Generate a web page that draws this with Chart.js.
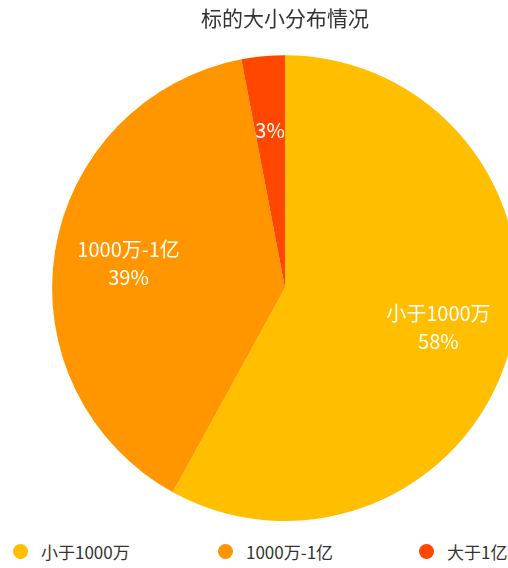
<!DOCTYPE html>
<html>
<head>
<meta charset="utf-8">
<script src="https://cdn.jsdelivr.net/npm/chart.js@4.4.1/dist/chart.umd.min.js"></script>
<style>
  html,body{margin:0;padding:0;background:#fff;overflow:hidden;}
  .wrap{position:relative;width:570px;height:568px;}
  #pie{display:block;}
  .legend{list-style:none;margin:0;padding:0 0 0 13px;display:flex;height:33px;align-items:center;
    font-family:"Noto Sans CJK SC","Noto Sans",sans-serif;font-size:17px;color:#333;white-space:nowrap;}
  .legend li{display:flex;align-items:center;flex:none;}
  .legend .dot{width:15px;height:15px;border-radius:50%;margin-right:13px;flex:none;}
</style>
</head>
<body>
<div class="wrap">
  <canvas id="pie" width="570" height="535"></canvas>
  <ul class="legend" id="legend"></ul>
</div>
<script>
// 标的规模分组与占比（%）
const labels = ['小于1000万', '1000万-1亿', '大于1亿'];
const shares = [58, 39, 3];
const colors = ['#FFBE00', '#FF9600', '#FF4700'];
const legendWidths = [205, 201, 200];

// 扇区内标签：名称 + 百分比，小扇区只写百分比
const sliceLabels = {
  id: 'sliceLabels',
  afterDatasetsDraw(chart) {
    const ctx = chart.ctx;
    const meta = chart.getDatasetMeta(0);
    ctx.save();
    ctx.fillStyle = '#fff';
    ctx.textAlign = 'center';
    ctx.textBaseline = 'middle';
    ctx.font = '20px "Noto Sans CJK SC", "Noto Sans", sans-serif';
    meta.data.forEach((arc, i) => {
      const mid = (arc.startAngle + arc.endAngle) / 2;
      const r = arc.outerRadius * 0.68;
      const x = arc.x + Math.cos(mid) * r;
      const y = arc.y + Math.sin(mid) * r;
      const pct = shares[i] + '%';
      if (shares[i] < 5) {
        ctx.fillText(pct, x, y);
      } else {
        ctx.fillText(labels[i], x, y - 14);
        ctx.fillText(pct, x, y + 14);
      }
    });
    ctx.restore();
  }
};

new Chart(document.getElementById('pie'), {
  type: 'pie',
  plugins: [sliceLabels],
  data: {
    labels,
    datasets: [{
      data: shares,
      backgroundColor: colors,
      hoverBackgroundColor: colors,
      borderWidth: 0,
    }]
  },
  options: {
    responsive: false,
    animation: false,
    layout: { padding: { bottom: 14 } },
    plugins: {
      legend: { display: false },
      tooltip: { enabled: false },
      title: {
        display: true,
        text: '标的大小分布情况',
        color: '#333',
        font: { size: 21, weight: 'normal', family: '"Noto Sans CJK SC", "Noto Sans", sans-serif' },
        padding: { top: 5, bottom: 25 },
      }
    }
  }
});

// 底部图例
const ul = document.getElementById('legend');
labels.forEach((label, i) => {
  const li = document.createElement('li');
  li.style.width = legendWidths[i] + 'px';
  li.innerHTML = `<span class="dot" style="background:${colors[i]}"></span><span>${label}</span>`;
  ul.appendChild(li);
});
</script>
</body>
</html>
